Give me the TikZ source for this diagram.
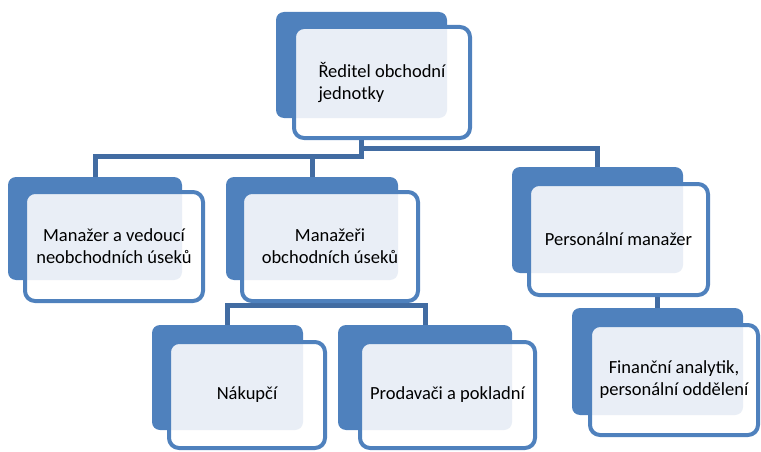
\documentclass[tikz,border=0pt]{standalone}
\usepackage{fontspec}
\setmainfont{Carlito}
\usetikzlibrary{calc,backgrounds}
\definecolor{modra}{RGB}{79,129,189}
\definecolor{spojnice}{RGB}{66,108,162}
\definecolor{vzor}{RGB}{233,238,246}
\begin{document}
\begin{tikzpicture}[x=1pt, y=-1pt, line join=round,
  zadni/.style={fill=modra, rounded corners=8pt, inner sep=0pt, outer sep=0pt},
  predni/.style={fill=white, draw=modra, line width=4pt, rounded corners=10pt,
    inner sep=0pt, outer sep=0pt, align=center, font=\fontsize{18.5}{22}\selectfont,
    path picture={\fill[vzor, rounded corners=8pt] (#1.north west) rectangle (#1.south east);}},
  spoj/.style={draw=spojnice, line width=5pt}]
  \useasboundingbox (0,0) rectangle (761,452);
  % ředitel
  \node[zadni, minimum width=171pt, minimum height=106pt] (reditel) at (361.5,65) {};
  \node[predni=reditel, minimum width=176pt, minimum height=111pt, align=left] (reditel-p) at (382,82.5) {Ředitel obchodní\\jednotky};
  % manažer a vedoucí
  \node[zadni, minimum width=174pt, minimum height=103pt] (vedouci) at (95,228.5) {};
  \node[predni=vedouci, minimum width=178pt, minimum height=109pt] (vedouci-p) at (114,246.5) {Manažer a vedoucí\\neobchodních úseků};
  % manažeři obchodních úseků
  \node[zadni, minimum width=172pt, minimum height=103pt] (obchodni) at (312,228.5) {};
  \node[predni=obchodni, minimum width=176pt, minimum height=109pt] (obchodni-p) at (330,246.5) {Manažeři\\obchodních úseků};
  % personální manažer
  \node[zadni, minimum width=171pt, minimum height=106pt] (personalni) at (597.5,220) {};
  \node[predni=personalni, minimum width=179pt, minimum height=111pt] (personalni-p) at (618.5,239.5) {Personální manažer};
  % finanční analytik
  \node[zadni, minimum width=171pt, minimum height=107pt] (financni) at (657.5,361.5) {};
  \node[predni=financni, minimum width=168pt, minimum height=110pt] (financni-p) at (674,380) {Finanční analytik,\\personální oddělení};
  % nákupčí
  \node[zadni, minimum width=151pt, minimum height=105pt] (nakupci) at (227.5,377.5) {};
  \node[predni=nakupci, minimum width=156pt, minimum height=106pt] (nakupci-p) at (247,395) {Nákupčí};
  % prodavači
  \node[zadni, minimum width=174pt, minimum height=105pt] (prodavaci) at (425,377.5) {};
  \node[predni=prodavaci, minimum width=175pt, minimum height=106pt] (prodavaci-p) at (447.5,395) {Prodavači a pokladní};
  % spojnice
  \begin{scope}[on background layer]
    \draw[spoj] (reditel.south) -- ++(0,38.5) -| (vedouci.north);
    \draw[spoj] (reditel.south) -- ++(0,38.5) -| (obchodni.north);
    \draw[spoj] (reditel.south) -- ++(0,30) -| (personalni.north);
    \draw[spoj] (obchodni.south) -- ++(0,25.5) -| (nakupci.north);
    \draw[spoj] (obchodni.south) -- ++(0,25.5) -| (prodavaci.north);
    \draw[spoj] (personalni.south) -- ++(0,17) -| (financni.north);
  \end{scope}
\end{tikzpicture}
\end{document}
